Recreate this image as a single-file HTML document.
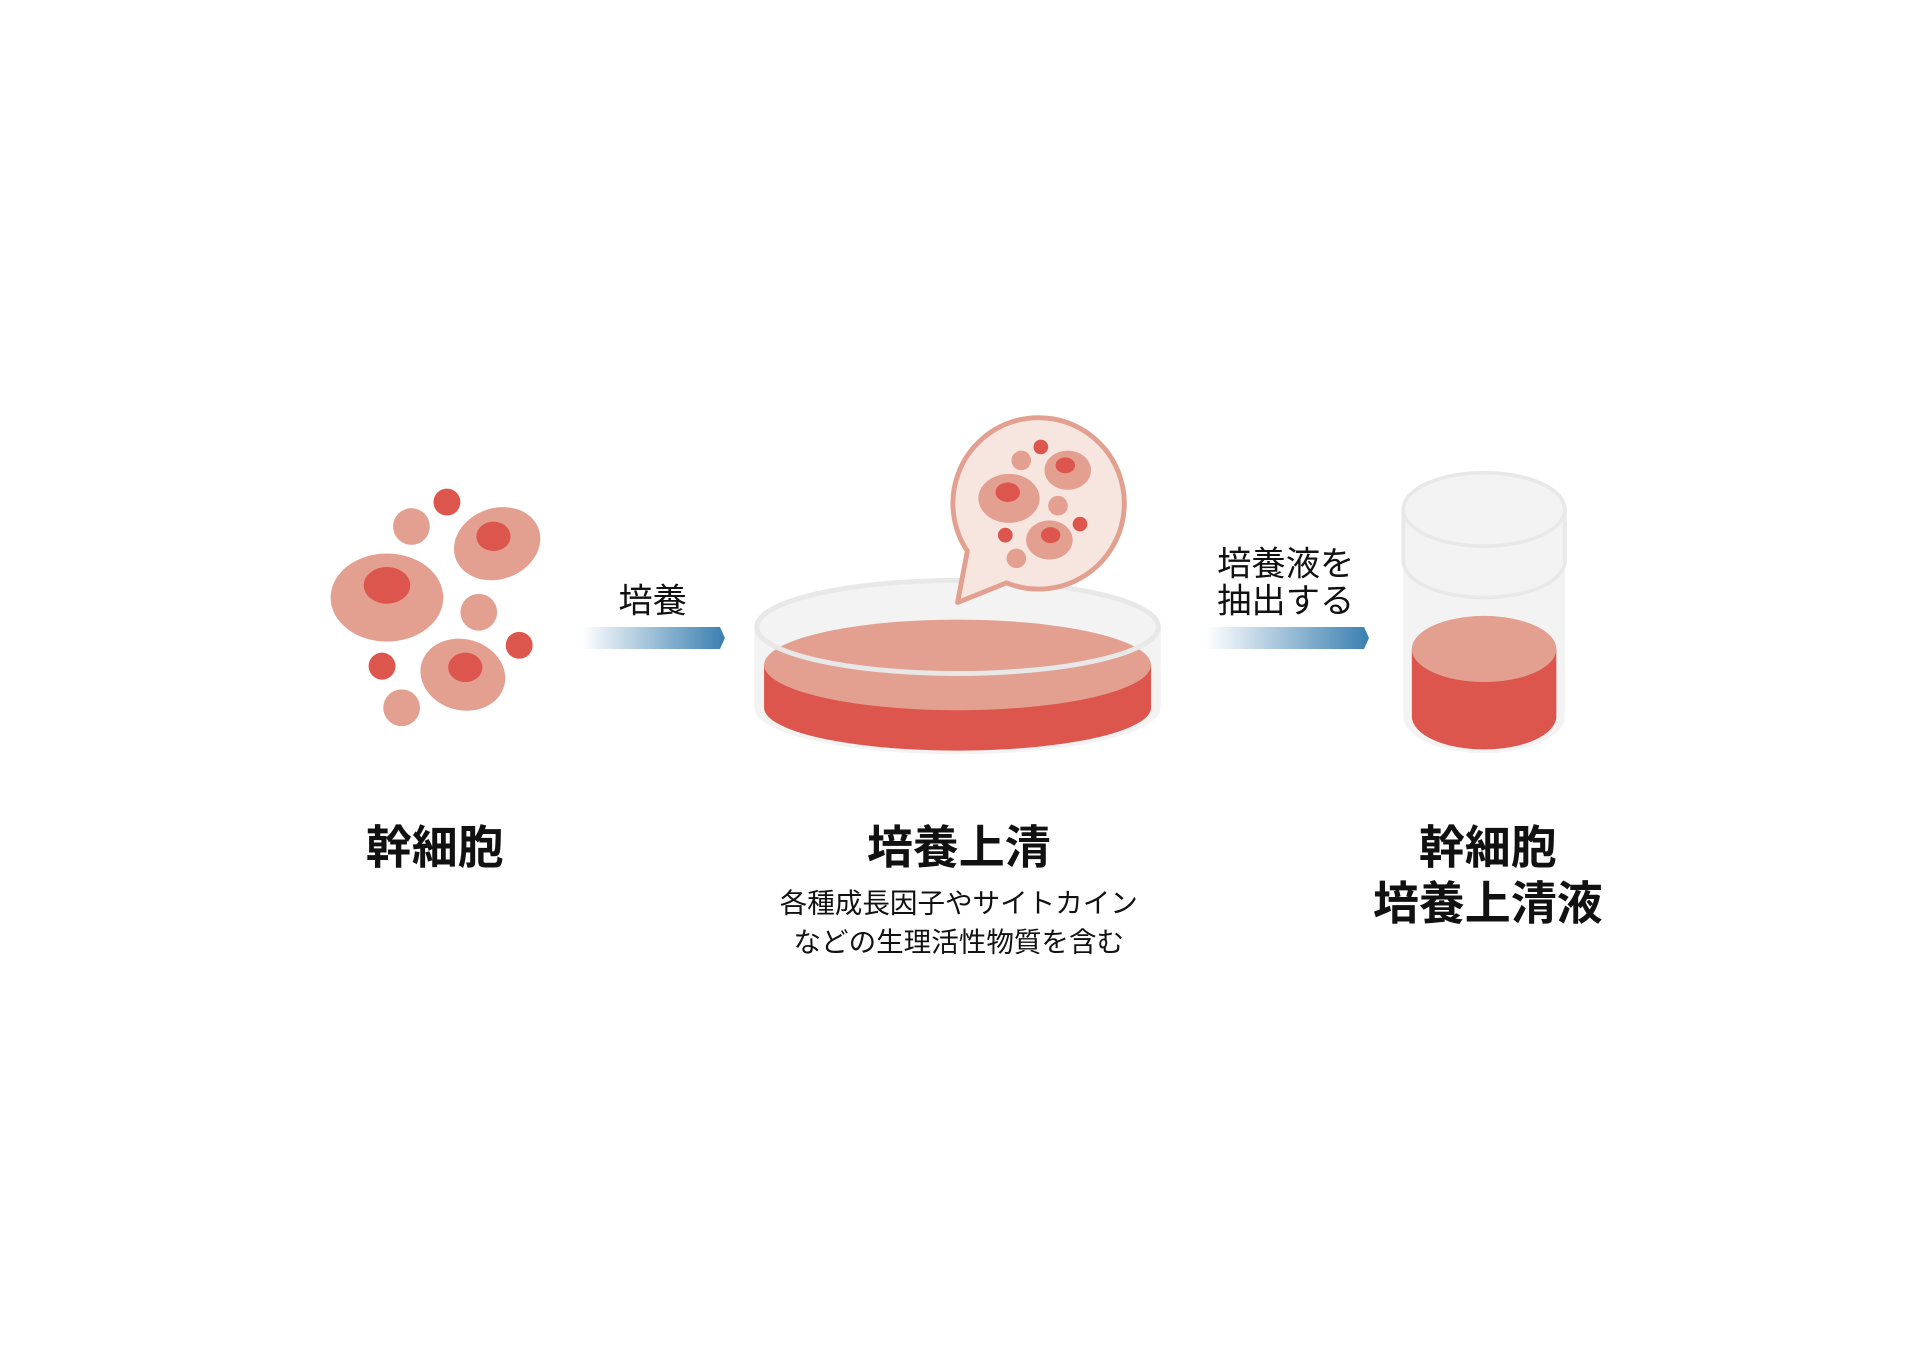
<!DOCTYPE html>
<html><head><meta charset="utf-8"><style>
html,body{margin:0;padding:0;background:#fff;}
svg{display:block;}
text{font-family:"Liberation Sans","Noto Sans CJK JP",sans-serif;fill:#111;}
</style></head><body>
<svg width="1920" height="1358" viewBox="0 0 1568 1109" preserveAspectRatio="none" xmlns="http://www.w3.org/2000/svg">
<defs>
<linearGradient id="ar" x1="0" x2="1" y1="0" y2="0">
<stop offset="0" stop-color="#3a7fb0" stop-opacity="0"/>
<stop offset="1" stop-color="#3a7fb0"/>
</linearGradient>
</defs>
<g>
<ellipse cx="316" cy="488" rx="46" ry="36" fill="#e3a090"/>
<ellipse cx="316" cy="478" rx="19" ry="15" fill="#dd564d"/>
<ellipse cx="406" cy="444" rx="36" ry="29" transform="rotate(-20 406 444)" fill="#e3a090"/>
<ellipse cx="403" cy="438" rx="14" ry="12" fill="#dd564d"/>
<ellipse cx="378" cy="551" rx="35" ry="29" transform="rotate(15 378 551)" fill="#e3a090"/>
<ellipse cx="380" cy="545" rx="14" ry="12" fill="#dd564d"/>
<circle cx="336" cy="430" r="15" fill="#e3a090"/>
<circle cx="391" cy="500" r="15" fill="#e3a090"/>
<circle cx="328" cy="578" r="15" fill="#e3a090"/>
<circle cx="365" cy="410" r="11" fill="#dd564d"/>
<circle cx="424" cy="527" r="11" fill="#dd564d"/>
<circle cx="312" cy="544" r="11" fill="#dd564d"/>
</g>
<path d="M475 512 H588 L592 521 L588 530 H475 Z" fill="url(#ar)"/>
<text x="533" y="500" font-size="28" text-anchor="middle">培養</text>
<path d="M616 512 V578 A166 38 0 0 0 948 578 V512 Z" fill="#f3f3f3"/>
<ellipse cx="782" cy="512" rx="166" ry="38" fill="#f3f3f3"/>
<path d="M624 543 V578 A158 35 0 0 0 940 578 V543 Z" fill="#dd564d"/>
<ellipse cx="782" cy="543" rx="158" ry="37" fill="#e3a090"/>
<ellipse cx="782" cy="512" rx="164" ry="38" fill="none" stroke="#e8e8e8" stroke-width="4"/>
<path d="M782 492 L790 450 A70 70 0 1 1 822 476 Z" fill="#f6e6df" stroke="#e3a090" stroke-width="4" stroke-linejoin="round"/>
<ellipse cx="824" cy="407" rx="25" ry="20" fill="#e3a090"/>
<ellipse cx="823" cy="402" rx="10" ry="8" fill="#dd564d"/>
<ellipse cx="872" cy="384" rx="19" ry="16" fill="#e3a090"/>
<ellipse cx="870" cy="380" rx="8" ry="6.5" fill="#dd564d"/>
<ellipse cx="857" cy="441" rx="19" ry="16" fill="#e3a090"/>
<ellipse cx="858" cy="437" rx="8" ry="6.5" fill="#dd564d"/>
<circle cx="834" cy="376" r="8" fill="#e3a090"/>
<circle cx="864" cy="413" r="8" fill="#e3a090"/>
<circle cx="830" cy="456" r="8" fill="#e3a090"/>
<circle cx="850" cy="365" r="6" fill="#dd564d"/>
<circle cx="882" cy="428" r="6" fill="#dd564d"/>
<circle cx="821" cy="437" r="6" fill="#dd564d"/>
<path d="M985 512 H1114 L1118 521 L1114 530 H985 Z" fill="url(#ar)"/>
<text x="1050" y="470" font-size="28" text-anchor="middle">培養液を</text>
<text x="1050" y="500" font-size="28" text-anchor="middle">抽出する</text>
<path d="M1146 415 V585 A66 30 0 0 0 1278 585 V415 Z" fill="#f3f3f3"/>
<path d="M1153 530 V585 A59 27 0 0 0 1271 585 V530 Z" fill="#dd564d"/>
<ellipse cx="1212" cy="530" rx="59" ry="27" fill="#e3a090"/>
<path d="M1146 415 V458 A66 30 0 0 0 1278 458 V415" fill="none" stroke="#e8e8e8" stroke-width="3"/>
<ellipse cx="1212" cy="416" rx="66" ry="30" fill="#f3f3f3" stroke="#e8e8e8" stroke-width="3"/>
<text x="355" y="705" font-size="37.5" font-weight="bold" text-anchor="middle">幹細胞</text>
<text x="783" y="705" font-size="37.5" font-weight="bold" text-anchor="middle">培養上清</text>
<text x="783" y="745" font-size="22.5" text-anchor="middle">各種成長因子やサイトカイン</text>
<text x="783" y="777" font-size="22.5" text-anchor="middle">などの生理活性物質を含む</text>
<text x="1215" y="705" font-size="37.5" font-weight="bold" text-anchor="middle">幹細胞</text>
<text x="1215" y="751" font-size="37.5" font-weight="bold" text-anchor="middle">培養上清液</text>
</svg>
</body></html>
